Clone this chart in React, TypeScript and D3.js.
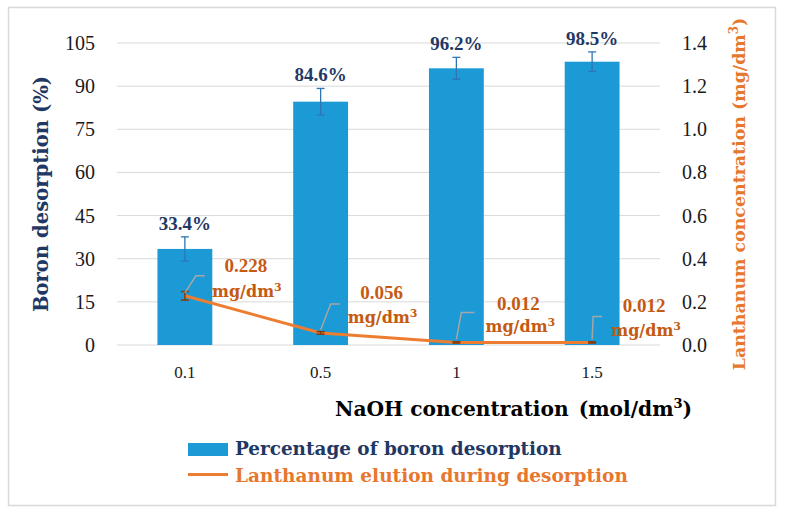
import React from "react";
import * as d3 from "d3";

const categories = ["0.1", "0.5", "1", "1.5"];
const boronDesorption = [33.4, 84.6, 96.2, 98.5];
const boronError = [4.2, 4.6, 3.8, 3.4];
const lanthanum = [0.228, 0.056, 0.012, 0.012];
const lanthanumError = [0.02, 0.006, 0.003, 0.003];
const leftTicks = [0, 15, 30, 45, 60, 75, 90, 105];
const rightTicks = [0, 0.2, 0.4, 0.6, 0.8, 1.0, 1.2, 1.4];

// label layout (offsets from each lanthanum point)
const labelLayout = [
  { ex: 11, ey: -20, len: 9, nx: 61, ny: -24, ux: 62, uy: 1 },
  { ex: 10, ey: -29, len: 9, nx: 61, ny: -34, ux: 62, uy: -10 },
  { ex: 5, ey: -30, len: 13, nx: 62, ny: -32, ux: 64, uy: -10 },
  { ex: 1, ey: -26, len: 9, nx: 52, ny: -30, ux: 54, uy: -6 },
];

const W = 787;
const H = 517;
const margin = { left: 117, right: 127, top: 43, bottom: 172 };
const NUMFONT = "'Liberation Serif', serif";
const FONT = "'DejaVu Serif', serif";
const NAVY = "#1F3864";
const BAR = "#1B9AD6";
const ORANGE = "#ED7D31";
const TITLE_ORANGE = "#E8772E";
const BROWN = "#C55A11";

export default function App() {
  const x = d3
    .scaleBand<string>()
    .domain(categories)
    .range([margin.left, W - margin.right])
    .paddingInner(0.596)
    .paddingOuter(0.298);
  const yL = d3.scaleLinear().domain([0, 105]).range([H - margin.bottom, margin.top]);
  const yR = d3.scaleLinear().domain([0, 1.4]).range([H - margin.bottom, margin.top]);
  const cx = (c: string) => (x(c) as number) + x.bandwidth() / 2;
  const line = d3
    .line<number>()
    .x((_, i) => cx(categories[i]))
    .y((d) => yR(d));

  return (
    <svg width={W} height={H} style={{ position: "absolute", left: 0, top: 0 }} fontFamily={FONT}>
      <rect x={0} y={0} width={W} height={H} fill="#fff" />
      <rect x={8.5} y={7.5} width={767} height={498} fill="none" stroke="#D9D9D9" strokeWidth={1.5} />
      {leftTicks.map((t) => (
        <g key={t}>
          <line x1={margin.left} x2={W - margin.right} y1={yL(t)} y2={yL(t)} stroke="#D9D9D9" strokeWidth={1} />
          <text x={95} y={yL(t)} dy="0.35em" textAnchor="end" fontSize={20} fontFamily={NUMFONT} fill="#1a1a1a">
            {t}
          </text>
        </g>
      ))}
      {rightTicks.map((t) => (
        <text key={t} x={682} y={yR(t)} dy="0.35em" textAnchor="start" fontSize={20} fontFamily={NUMFONT} fill="#1a1a1a">
          {d3.format(".1f")(t)}
        </text>
      ))}
      {categories.map((c, i) => (
        <g key={c}>
          <rect
            x={x(c)}
            y={yL(boronDesorption[i])}
            width={x.bandwidth()}
            height={yL(0) - yL(boronDesorption[i])}
            fill={BAR}
          />
          <line x1={cx(c)} x2={cx(c)} y1={yL(boronDesorption[i] + boronError[i])} y2={yL(boronDesorption[i] - boronError[i])} stroke="#2E75B6" strokeWidth={1.3} />
          <line x1={cx(c) - 4} x2={cx(c) + 4} y1={yL(boronDesorption[i] + boronError[i])} y2={yL(boronDesorption[i] + boronError[i])} stroke="#2E75B6" strokeWidth={1.3} />
          <line x1={cx(c) - 4} x2={cx(c) + 4} y1={yL(boronDesorption[i] - boronError[i])} y2={yL(boronDesorption[i] - boronError[i])} stroke="#2E75B6" strokeWidth={1.3} />
          <text x={cx(c)} y={yL(boronDesorption[i] + boronError[i]) - 7} textAnchor="middle" fontSize={19} fontWeight="bold" fontFamily={NUMFONT} fill={NAVY}>
            {boronDesorption[i].toFixed(1)}%
          </text>
          <text x={cx(c)} y={yL(0) + 33} textAnchor="middle" fontSize={17} fontFamily={NUMFONT} fill="#1a1a1a">
            {c}
          </text>
        </g>
      ))}
      <path d={line(lanthanum) || ""} fill="none" stroke={ORANGE} strokeWidth={3} />
      {categories.map((c, i) => {
        const px = cx(c);
        const py = yR(lanthanum[i]);
        const top = yR(lanthanum[i] + lanthanumError[i]);
        const bot = yR(lanthanum[i] - lanthanumError[i]);
        const L = labelLayout[i];
        return (
          <g key={"la" + c}>
            <line x1={px} x2={px} y1={top} y2={bot} stroke="#843C0C" strokeWidth={1.5} />
            <line x1={px - 4} x2={px + 4} y1={top} y2={top} stroke="#843C0C" strokeWidth={1.5} />
            <line x1={px - 4} x2={px + 4} y1={bot} y2={bot} stroke="#843C0C" strokeWidth={1.5} />
            <polyline
              points={`${px},${py - 3} ${px + L.ex},${py + L.ey} ${px + L.ex + L.len},${py + L.ey}`}
              fill="none"
              stroke="#A6A6A6"
              strokeWidth={1.5}
            />
            <text x={px + L.nx} y={py + L.ny} textAnchor="middle" fontSize={19} fontWeight="bold" fontFamily={NUMFONT} fill={BROWN}>
              {lanthanum[i].toFixed(3)}
            </text>
            <text x={px + L.ux} y={py + L.uy} textAnchor="middle" fontSize={16} fontWeight="bold" fill={BROWN}>
              mg/dm<tspan dy={-6} fontSize={11}>3</tspan>
            </text>
          </g>
        );
      })}
      <text transform="translate(48,194) rotate(-90)" textAnchor="middle" fontSize={19.6} fontWeight="bold" fill={NAVY}>
        Boron desorption (%)
      </text>
      <text transform="translate(745,194) rotate(-90)" textAnchor="middle" fontSize={17.4} fontWeight="bold" fill={TITLE_ORANGE}>
        Lanthanum concentration (mg/dm<tspan dy={-7} fontSize={12}>3</tspan><tspan dy={7}>)</tspan>
      </text>
      <text x={335} y={416} textAnchor="start" fontSize={20.2} fontWeight="bold" fill="#000">
        NaOH concentration<tspan dx={10}>(mol/dm</tspan><tspan dy={-8} fontSize={13}>3</tspan><tspan dy={8}>)</tspan>
      </text>
      <rect x={188} y={443} width={40} height={13} fill={BAR} />
      <text x={235} y={455} fontSize={18.4} fontWeight="bold" fill={NAVY}>
        Percentage of boron desorption
      </text>
      <line x1={188} x2={228} y1={474.5} y2={474.5} stroke={ORANGE} strokeWidth={3} />
      <text x={235} y={482} fontSize={18.5} fontWeight="bold" fill={TITLE_ORANGE}>
        Lanthanum elution during desorption
      </text>
    </svg>
  );
}
